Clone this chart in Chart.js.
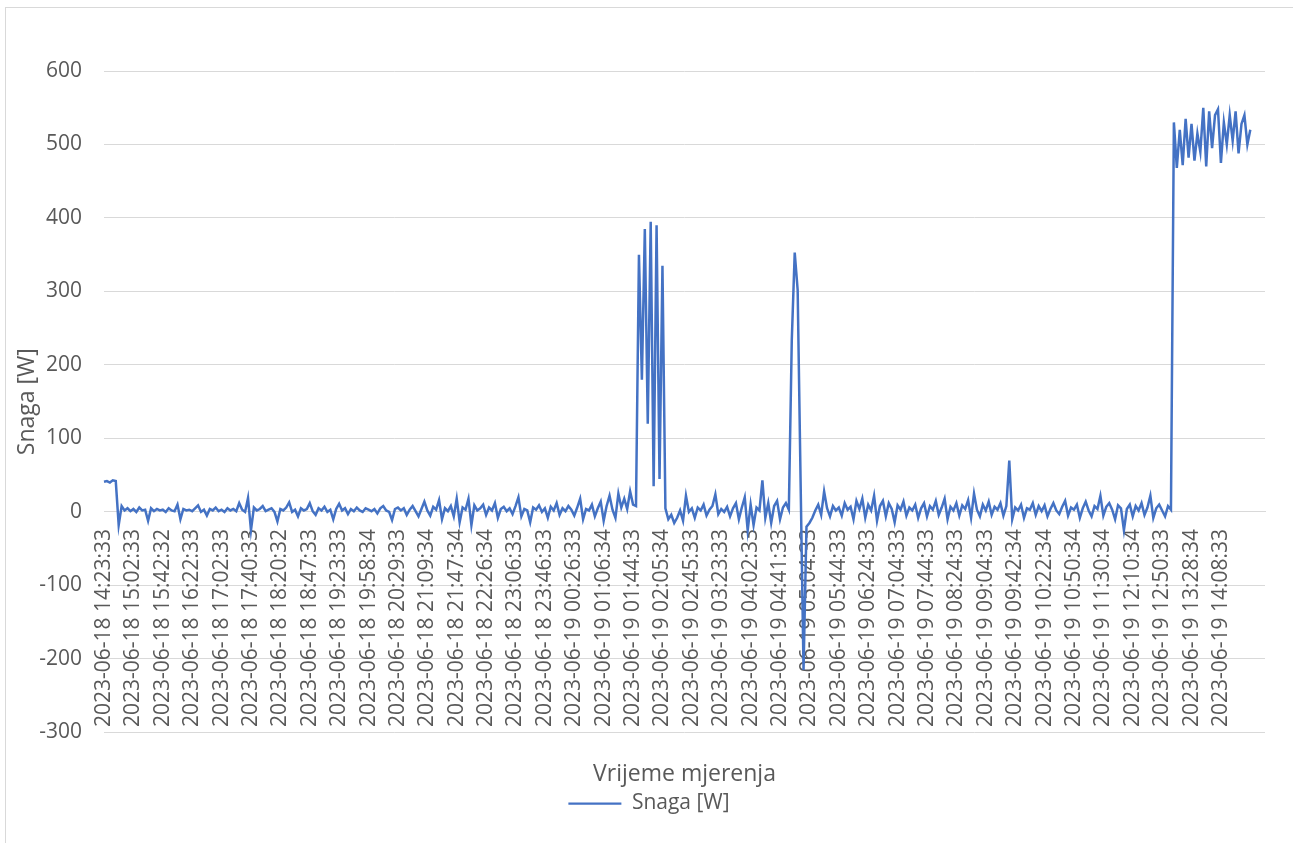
<!DOCTYPE html>
<html>
<head>
<meta charset="utf-8">
<script src="https://cdn.jsdelivr.net/npm/chart.js"></script>
<style>
  body { margin: 0; background: #fff; overflow: hidden; }
  #frame { position: absolute; left: 5px; top: 7px; width: 1287px; height: 900px; border: 1px solid #d9d9d9; }
  #chart { position: absolute; left: 0; top: 0; }
</style>
</head>
<body>
<div id="frame"></div>
<canvas id="chart" width="1293" height="843"></canvas>
<script>
// oznake na osi x (svaka deseta tocka)
const tickLabels = [
    '2023-06-18 14:23:33', '2023-06-18 15:02:33', '2023-06-18 15:42:32', '2023-06-18 16:22:33',
    '2023-06-18 17:02:33', '2023-06-18 17:40:33', '2023-06-18 18:20:32', '2023-06-18 18:47:33',
    '2023-06-18 19:23:33', '2023-06-18 19:58:34', '2023-06-18 20:29:33', '2023-06-18 21:09:34',
    '2023-06-18 21:47:34', '2023-06-18 22:26:34', '2023-06-18 23:06:33', '2023-06-18 23:46:33',
    '2023-06-19 00:26:33', '2023-06-19 01:06:34', '2023-06-19 01:44:33', '2023-06-19 02:05:34',
    '2023-06-19 02:45:33', '2023-06-19 03:23:33', '2023-06-19 04:02:33', '2023-06-19 04:41:33',
    '2023-06-19 05:04:33', '2023-06-19 05:44:33', '2023-06-19 06:24:33', '2023-06-19 07:04:33',
    '2023-06-19 07:44:33', '2023-06-19 08:24:33', '2023-06-19 09:04:33', '2023-06-19 09:42:34',
    '2023-06-19 10:22:34', '2023-06-19 10:50:34', '2023-06-19 11:30:34', '2023-06-19 12:10:34',
    '2023-06-19 12:50:33', '2023-06-19 13:28:34', '2023-06-19 14:08:33'
];
const pointsPerLabel = 10;
const emptyTail = 6; // prazne kategorije na kraju osi

// Snaga [W]
const snaga = [
    41, 42, 40, 43, 42, -18, 8, 2, 5, 1,
    4, 0, 6, 2, 3, -12, 5, 1, 4, 2,
    3, 0, 5, 2, 1, 10, -10, 4, 2, 3,
    1, 5, 9, 0, 3, -5, 4, 2, 6, 1,
    3, 0, 5, 2, 4, 1, 12, 3, 0, 19,
    -25, 6, 2, 4, 8, 1, 3, 5, 0, -13,
    4, 2, 6, 13, 0, 3, -6, 5, 2, 4,
    12, 1, -4, 5, 2, 7, 0, 3, -10, 4,
    11, 2, 5, -3, 4, 1, 6, 2, 0, 5,
    3, 1, 4, -2, 5, 8, 2, 0, -11, 4,
    6, 2, 5, -4, 3, 8, 1, -6, 4, 14,
    2, -5, 7, 3, 16, -10, 5, 1, 8, -6,
    18, -14, 6, 3, 18, -18, 9, 2, 5, 10,
    -4, 6, 2, 12, -8, 4, 7, 1, 5, -3,
    8, 20, -6, 4, 2, -14, 6, 3, 9, 0,
    5, -8, 7, 2, 12, -4, 5, 1, 8, 3,
    -5, 6, 18, -10, 4, 2, 10, -6, 5, 14,
    -12, 8, 22, 3, -8, 25, 6, 18, 4, 28,
    10, 8, 350, 180, 385, 120, 395, 35, 390, 45,
    335, 5, -10, -4, -15, -8, 2, -12, 22, 0,
    5, -8, 6, 2, 10, -5, 3, 8, 24, -3,
    4, 0, 7, -6, 5, 12, -10, 6, 20, -25,
    10, -18, 6, 2, 43, -8, 12, -15, 8, 15,
    -10, 6, 12, 3, 234, 353, 302, 41, -215, -20,
    -15, -8, 2, 10, -4, 28, 5, -6, 8, 2,
    6, -5, 12, 3, 7, -10, 15, 4, 18, -8,
    10, 2, 22, -12, 8, 15, -6, 12, 4, -14,
    9, 3, 14, -5, 6, 2, 10, -8, 5, 12,
    -6, 8, 3, 15, -4, 6, 18, -10, 7, 2,
    12, -5, 9, 4, 16, -8, 25, 3, -6, 10,
    2, 14, -4, 7, 3, 12, -5, 8, 70, -10,
    6, 2, 10, -8, 5, 3, 12, -4, 8, 1,
    9, -6, 4, 12, 2, -3, 7, 15, -5, 6,
    3, 10, -8, 5, 14, 2, -6, 8, 4, 22,
    -5, 7, 12, 3, -10, 9, 5, -25, 4, 10,
    -6, 8, 2, 12, -4, 6, 22, -8, 5, 10,
    2, -6, 8, 3, 530, 468, 520, 472, 535, 482,
    528, 478, 515, 490, 550, 470, 545, 495, 540, 548,
    475, 530, 500, 540, 505, 545, 488, 528, 540, 500,
    520
];

const yMin = -300;
const yMax = 600;
const yStep = 100;

// kategorije: oznaka pa prazna mjesta
const categories = [];
tickLabels.forEach(t => {
    categories.push(t);
    for (let k = 1; k < pointsPerLabel; k++) categories.push('');
});
for (let k = 0; k < emptyTail; k++) categories.push('');

const blue = '#4472C4';
const grey = '#595959';
const gridGrey = '#d9d9d9';

Chart.defaults.font.family = "'Open Sans', sans-serif";
Chart.defaults.color = grey;

const ctx = document.getElementById('chart').getContext('2d');
const chart = new Chart(ctx, {
    type: 'line',
    data: {
        labels: categories,
        datasets: [{
            label: 'Snaga [W]',
            data: snaga,
            borderColor: blue,
            backgroundColor: blue,
            borderWidth: 2.5,
            pointRadius: 0,
            pointHoverRadius: 0,
            pointBorderColor: blue,
            pointBackgroundColor: blue,
            pointBorderWidth: 2.25,
            tension: 0
        }]
    },
    options: {
        responsive: false,
        animation: false,
        events: [],
        layout: { padding: { left: 5, top: 71, right: 0, bottom: 19 } },
        scales: {
            x: {
                type: 'category',
                position: { y: 0 },
                grid: { display: false, drawTicks: false },
                border: { display: true, color: gridGrey },
                ticks: {
                    autoSkip: false,
                    maxRotation: 90,
                    minRotation: 90,
                    padding: 17,
                    font: { size: 21 },
                    color: grey
                },
                afterFit: (scale) => {
                    // oznake su unutar grafa, ne trebaju rub
                    scale.paddingLeft = 0;
                    scale.paddingRight = 0;
                }
            },
            y: {
                position: 'left',
                min: yMin,
                max: yMax,
                grid: { color: gridGrey, lineWidth: 1, drawTicks: false },
                border: { display: false },
                ticks: { stepSize: yStep, padding: 22, font: { size: 21 }, color: grey },
                title: {
                    display: true,
                    text: 'Snaga [W]',
                    font: { size: 23 },
                    color: grey,
                    padding: { top: 9, bottom: 0 }
                },
                afterFit: (scale) => { scale.width = 99; }
            },
            yDesno: {
                position: 'right',
                grid: { display: false, drawTicks: false },
                border: { display: false },
                ticks: { display: false },
                afterFit: (scale) => { scale.width = 28; }
            }
        },
        plugins: {
            legend: {
                position: 'bottom',
                labels: {
                    usePointStyle: true,
                    pointStyle: 'line',
                    pointStyleWidth: 53,
                    padding: 5,
                    font: { size: 21 },
                    color: grey
                }
            },
            title: {
                display: true,
                text: 'Vrijeme mjerenja',
                position: 'bottom',
                fullSize: false,
                weight: 500,
                font: { size: 23, weight: 'normal' },
                color: grey,
                padding: { top: 28, bottom: 0 }
            },
            tooltip: { enabled: false }
        }
    }
});
</script>
</body>
</html>
